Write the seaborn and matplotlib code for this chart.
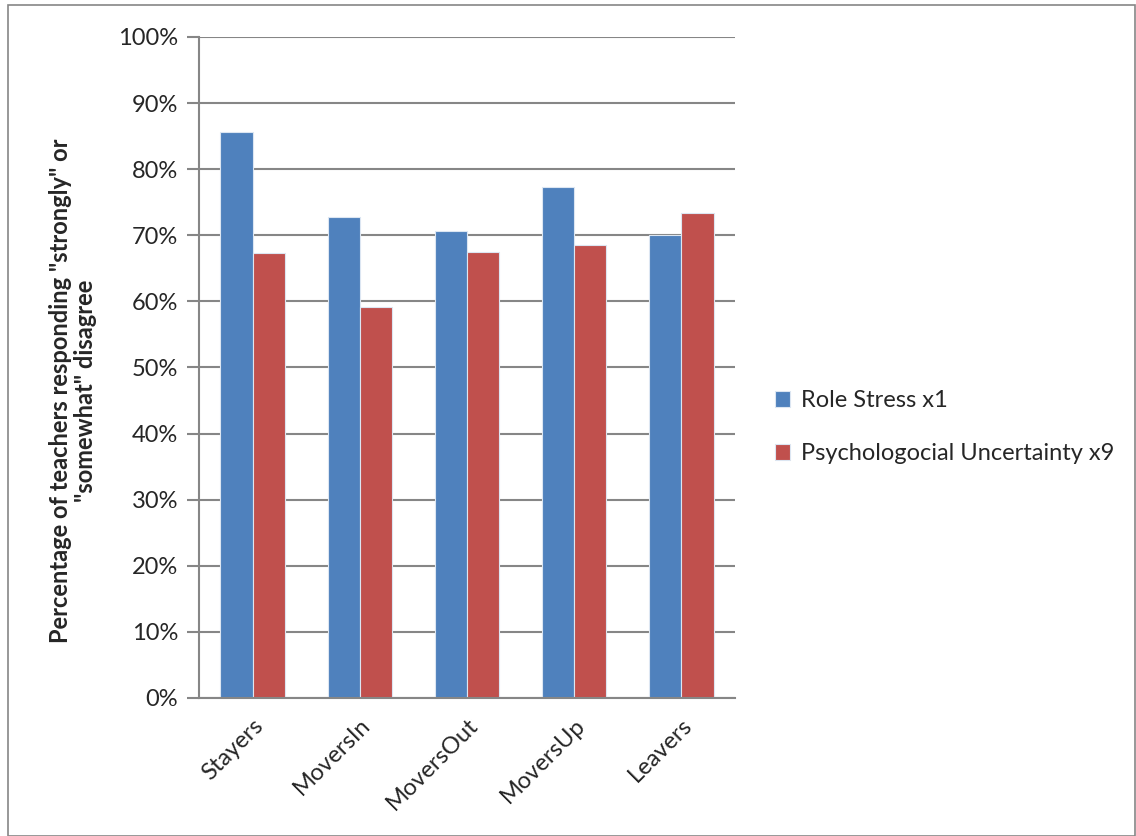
import matplotlib
matplotlib.use("Agg")
import matplotlib.pyplot as plt
import seaborn as sns
import pandas as pd
from matplotlib.patches import Rectangle
from matplotlib.ticker import PercentFormatter

# values
groups = ["Stayers", "MoversIn", "MoversOut", "MoversUp", "Leavers"]
role_stress = [85.7, 72.7, 70.6, 77.3, 70.0]
psych_uncertainty = [67.3, 59.2, 67.5, 68.5, 73.3]
series_names = ["Role Stress x1", "Psychologocial Uncertainty x9"]

df = pd.DataFrame({
    "group": groups * 2,
    "value": role_stress + psych_uncertainty,
    "series": [series_names[0]] * 5 + [series_names[1]] * 5,
})

sns.set_style("white")
plt.rcParams["font.family"] = ["Lato", "DejaVu Sans"]

fig = plt.figure(figsize=(11.36, 8.36), dpi=100)
ax = fig.add_axes([199 / 1136, 1 - 698 / 836, 536 / 1136, 661 / 836])

sns.barplot(data=df, x="group", y="value", hue="series",
            palette=["#4F81BD", "#C0504D"], width=0.6, ax=ax,
            edgecolor="#DCE6F2", linewidth=0.8, saturation=1)

ax.set_ylim(0, 100)
ax.set_yticks(range(0, 101, 10))
ax.yaxis.set_major_formatter(PercentFormatter(decimals=0))
ax.set_axisbelow(True)
ax.grid(axis="y", color="#868686", linewidth=1.5)
for s in ["top", "right"]:
    ax.spines[s].set_visible(False)
for s in ["left", "bottom"]:
    ax.spines[s].set_color("#868686")
    ax.spines[s].set_linewidth(1.5)
ax.tick_params(axis="y", length=9, width=1.5, color="#868686", labelsize=17, pad=6, left=True)
ax.tick_params(axis="x", length=0, labelsize=17, pad=12)
for lab in ax.get_xticklabels():
    lab.set_rotation(45)
    lab.set_ha("right")
    lab.set_rotation_mode("anchor")

ax.set_xlabel("")
ax.set_ylabel('Percentage of teachers responding "strongly" or\n"somewhat" disagree',
              fontsize=17, fontweight="bold", linespacing=1.1)
ax.yaxis.set_label_coords(-0.19, 0.465)

leg = ax.legend(loc="center left", bbox_to_anchor=(1.035, 0.41), frameon=False,
                fontsize=17, handlelength=0.65, handleheight=0.65,
                labelspacing=1.35, handletextpad=0.45)

fig.patches.append(Rectangle((8 / 1136, 0), 1127 / 1136, 1 - 5 / 836,
                             transform=fig.transFigure, fill=False,
                             edgecolor="#868686", linewidth=1.2))

fig.savefig("out.png", dpi=100)
